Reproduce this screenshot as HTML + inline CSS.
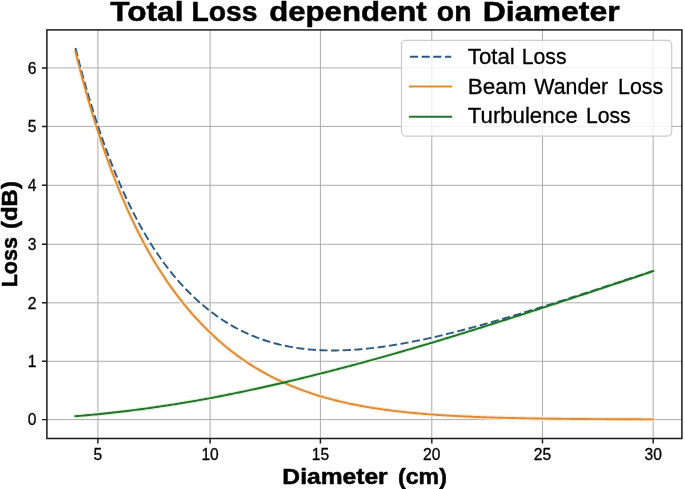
<!DOCTYPE html><html><head><meta charset="utf-8"><style>html,body{margin:0;padding:0;background:#fff;overflow:hidden}svg{display:block;filter:blur(0.45px)}text{font-family:"Liberation Sans",sans-serif;fill:#000}</style></head><body>
<svg width="685" height="489" viewBox="0 0 685 489">
<rect width="685" height="489" fill="#fff"/>
<path d="M97.90,29.90V438.50M210.10,29.90V438.50M320.40,29.90V438.50M431.80,29.90V438.50M542.50,29.90V438.50M653.20,29.90V438.50M46.90,419.60H681.90M46.90,361.30H681.90M46.90,302.80H681.90M46.90,244.30H681.90M46.90,185.30H681.90M46.90,126.40H681.90M46.90,67.90H681.90" stroke="#acacac" stroke-width="1.0" fill="none"/>
<clipPath id="ax"><rect x="46.9" y="29.9" width="635.00" height="408.60"/></clipPath>
<g clip-path="url(#ax)" fill="none" stroke-width="4.30" stroke-linejoin="round" stroke-linecap="round">
<path d="M75.46,51.49 L77.70,60.48 L79.95,69.23 L82.19,77.74 L84.44,86.01 L86.68,94.06 L88.92,101.90 L91.17,109.52 L93.41,116.94 L95.66,124.17 L97.90,131.24 L100.14,138.14 L102.39,144.86 L104.63,151.41 L106.88,157.79 L109.12,164.01 L111.36,170.07 L113.61,175.99 L115.85,181.75 L118.10,187.37 L120.34,192.86 L122.58,198.22 L124.83,203.44 L127.07,208.54 L129.32,213.52 L131.56,218.37 L133.80,223.11 L136.05,227.74 L138.29,232.26 L140.54,236.67 L142.78,240.97 L145.02,245.17 L147.27,249.25 L149.51,253.22 L151.76,257.11 L154.00,260.91 L156.24,264.62 L158.49,268.25 L160.73,271.79 L162.98,275.25 L165.22,278.64 L167.46,281.94 L169.71,285.18 L171.95,288.34 L174.20,291.43 L176.44,294.45 L178.68,297.40 L180.93,300.29 L183.17,303.11 L185.42,305.87 L187.66,308.57 L189.90,311.21 L192.15,313.80 L194.39,316.32 L196.64,318.79 L198.88,321.21 L201.12,323.57 L203.37,325.88 L205.61,328.14 L207.86,330.35 L210.10,332.51 L212.31,334.62 L214.51,336.69 L216.72,338.71 L218.92,340.68 L221.13,342.62 L223.34,344.51 L225.54,346.36 L227.75,348.17 L229.95,349.93 L232.16,351.66 L234.37,353.35 L236.57,355.01 L238.78,356.63 L240.98,358.21 L243.19,359.75 L245.40,361.26 L247.60,362.74 L249.81,364.17 L252.01,365.58 L254.22,366.96 L256.43,368.30 L258.63,369.62 L260.84,370.90 L263.04,372.15 L265.25,373.38 L267.46,374.58 L269.66,375.75 L271.87,376.89 L274.07,378.01 L276.28,379.10 L278.49,380.17 L280.69,381.21 L282.90,382.23 L285.10,383.22 L287.31,384.19 L289.52,385.14 L291.72,386.06 L293.93,386.97 L296.13,387.85 L298.34,388.71 L300.55,389.55 L302.75,390.37 L304.96,391.17 L307.16,391.95 L309.37,392.71 L311.58,393.45 L313.78,394.18 L315.99,394.88 L318.19,395.57 L320.40,396.24 L322.63,396.90 L324.86,397.54 L327.08,398.16 L329.31,398.77 L331.54,399.36 L333.77,399.93 L336.00,400.49 L338.22,401.04 L340.45,401.58 L342.68,402.09 L344.91,402.60 L347.14,403.09 L349.36,403.57 L351.59,404.04 L353.82,404.50 L356.05,404.94 L358.28,405.37 L360.50,405.79 L362.73,406.20 L364.96,406.59 L367.19,406.98 L369.42,407.36 L371.64,407.72 L373.87,408.08 L376.10,408.42 L378.33,408.76 L380.56,409.09 L382.78,409.41 L385.01,409.71 L387.24,410.01 L389.47,410.31 L391.70,410.59 L393.92,410.87 L396.15,411.13 L398.38,411.39 L400.61,411.65 L402.84,411.89 L405.06,412.13 L407.29,412.36 L409.52,412.59 L411.75,412.81 L413.98,413.02 L416.20,413.22 L418.43,413.42 L420.66,413.62 L422.89,413.80 L425.12,413.99 L427.34,414.16 L429.57,414.33 L431.80,414.50 L434.01,414.66 L436.23,414.82 L438.44,414.97 L440.66,415.12 L442.87,415.26 L445.08,415.40 L447.30,415.53 L449.51,415.66 L451.73,415.79 L453.94,415.91 L456.15,416.03 L458.37,416.14 L460.58,416.25 L462.80,416.36 L465.01,416.46 L467.22,416.56 L469.44,416.66 L471.65,416.76 L473.87,416.85 L476.08,416.94 L478.29,417.02 L480.51,417.11 L482.72,417.19 L484.94,417.26 L487.15,417.34 L489.36,417.41 L491.58,417.48 L493.79,417.55 L496.01,417.62 L498.22,417.68 L500.43,417.74 L502.65,417.80 L504.86,417.86 L507.08,417.92 L509.29,417.97 L511.50,418.02 L513.72,418.07 L515.93,418.12 L518.15,418.17 L520.36,418.21 L522.57,418.26 L524.79,418.30 L527.00,418.34 L529.22,418.38 L531.43,418.42 L533.64,418.46 L535.86,418.49 L538.07,418.53 L540.29,418.56 L542.50,418.60 L544.71,418.63 L546.93,418.66 L549.14,418.69 L551.36,418.71 L553.57,418.74 L555.78,418.77 L558.00,418.79 L560.21,418.82 L562.43,418.84 L564.64,418.87 L566.85,418.89 L569.07,418.91 L571.28,418.93 L573.50,418.95 L575.71,418.97 L577.92,418.99 L580.14,419.01 L582.35,419.03 L584.57,419.04 L586.78,419.06 L588.99,419.07 L591.21,419.09 L593.42,419.10 L595.64,419.12 L597.85,419.13 L600.06,419.15 L602.28,419.16 L604.49,419.17 L606.71,419.18 L608.92,419.20 L611.13,419.21 L613.35,419.22 L615.56,419.23 L617.78,419.24 L619.99,419.25 L622.20,419.26 L624.42,419.27 L626.63,419.28 L628.85,419.28 L631.06,419.29 L633.27,419.30 L635.49,419.31 L637.70,419.32 L639.92,419.32 L642.13,419.33 L644.34,419.34 L646.56,419.34 L648.77,419.35 L650.99,419.35 L653.20,419.36" stroke="#fcebd2"/>
<path d="M75.46,416.21 L77.70,416.03 L79.95,415.85 L82.19,415.66 L84.44,415.46 L86.68,415.27 L88.92,415.06 L91.17,414.86 L93.41,414.65 L95.66,414.43 L97.90,414.21 L100.14,413.99 L102.39,413.76 L104.63,413.53 L106.88,413.29 L109.12,413.05 L111.36,412.81 L113.61,412.56 L115.85,412.31 L118.10,412.05 L120.34,411.79 L122.58,411.52 L124.83,411.25 L127.07,410.98 L129.32,410.70 L131.56,410.42 L133.80,410.13 L136.05,409.84 L138.29,409.55 L140.54,409.25 L142.78,408.95 L145.02,408.65 L147.27,408.34 L149.51,408.02 L151.76,407.71 L154.00,407.38 L156.24,407.06 L158.49,406.73 L160.73,406.40 L162.98,406.06 L165.22,405.72 L167.46,405.38 L169.71,405.03 L171.95,404.68 L174.20,404.32 L176.44,403.96 L178.68,403.60 L180.93,403.23 L183.17,402.86 L185.42,402.49 L187.66,402.11 L189.90,401.73 L192.15,401.35 L194.39,400.96 L196.64,400.57 L198.88,400.17 L201.12,399.78 L203.37,399.37 L205.61,398.97 L207.86,398.56 L210.10,398.15 L212.31,397.73 L214.51,397.31 L216.72,396.89 L218.92,396.46 L221.13,396.04 L223.34,395.60 L225.54,395.17 L227.75,394.73 L229.95,394.29 L232.16,393.84 L234.37,393.39 L236.57,392.94 L238.78,392.49 L240.98,392.03 L243.19,391.57 L245.40,391.10 L247.60,390.64 L249.81,390.17 L252.01,389.69 L254.22,389.22 L256.43,388.74 L258.63,388.25 L260.84,387.77 L263.04,387.28 L265.25,386.79 L267.46,386.29 L269.66,385.79 L271.87,385.29 L274.07,384.79 L276.28,384.28 L278.49,383.78 L280.69,383.26 L282.90,382.75 L285.10,382.23 L287.31,381.71 L289.52,381.19 L291.72,380.66 L293.93,380.13 L296.13,379.60 L298.34,379.07 L300.55,378.53 L302.75,377.99 L304.96,377.45 L307.16,376.91 L309.37,376.36 L311.58,375.81 L313.78,375.26 L315.99,374.70 L318.19,374.15 L320.40,373.59 L322.63,373.02 L324.86,372.46 L327.08,371.89 L329.31,371.32 L331.54,370.75 L333.77,370.17 L336.00,369.60 L338.22,369.02 L340.45,368.44 L342.68,367.85 L344.91,367.27 L347.14,366.68 L349.36,366.09 L351.59,365.49 L353.82,364.90 L356.05,364.30 L358.28,363.70 L360.50,363.10 L362.73,362.49 L364.96,361.89 L367.19,361.28 L369.42,360.67 L371.64,360.05 L373.87,359.43 L376.10,358.82 L378.33,358.19 L380.56,357.57 L382.78,356.95 L385.01,356.32 L387.24,355.69 L389.47,355.06 L391.70,354.43 L393.92,353.79 L396.15,353.16 L398.38,352.52 L400.61,351.88 L402.84,351.23 L405.06,350.59 L407.29,349.94 L409.52,349.30 L411.75,348.65 L413.98,347.99 L416.20,347.34 L418.43,346.69 L420.66,346.03 L422.89,345.37 L425.12,344.71 L427.34,344.05 L429.57,343.39 L431.80,342.72 L434.01,342.06 L436.23,341.39 L438.44,340.72 L440.66,340.05 L442.87,339.38 L445.08,338.70 L447.30,338.03 L449.51,337.35 L451.73,336.67 L453.94,335.99 L456.15,335.31 L458.37,334.63 L460.58,333.94 L462.80,333.26 L465.01,332.57 L467.22,331.88 L469.44,331.19 L471.65,330.50 L473.87,329.81 L476.08,329.12 L478.29,328.42 L480.51,327.73 L482.72,327.03 L484.94,326.33 L487.15,325.63 L489.36,324.93 L491.58,324.23 L493.79,323.53 L496.01,322.82 L498.22,322.12 L500.43,321.41 L502.65,320.71 L504.86,320.00 L507.08,319.29 L509.29,318.58 L511.50,317.87 L513.72,317.16 L515.93,316.45 L518.15,315.73 L520.36,315.02 L522.57,314.30 L524.79,313.59 L527.00,312.87 L529.22,312.15 L531.43,311.43 L533.64,310.71 L535.86,309.99 L538.07,309.27 L540.29,308.55 L542.50,307.83 L544.71,307.11 L546.93,306.38 L549.14,305.66 L551.36,304.93 L553.57,304.21 L555.78,303.48 L558.00,302.75 L560.21,302.03 L562.43,301.30 L564.64,300.57 L566.85,299.84 L569.07,299.11 L571.28,298.38 L573.50,297.65 L575.71,296.92 L577.92,296.19 L580.14,295.46 L582.35,294.73 L584.57,293.99 L586.78,293.26 L588.99,292.53 L591.21,291.79 L593.42,291.06 L595.64,290.33 L597.85,289.59 L600.06,288.86 L602.28,288.12 L604.49,287.39 L606.71,286.65 L608.92,285.92 L611.13,285.18 L613.35,284.45 L615.56,283.71 L617.78,282.98 L619.99,282.24 L622.20,281.51 L624.42,280.77 L626.63,280.03 L628.85,279.30 L631.06,278.56 L633.27,277.83 L635.49,277.09 L637.70,276.35 L639.92,275.62 L642.13,274.88 L644.34,274.15 L646.56,273.41 L648.77,272.68 L650.99,271.94 L653.20,271.21" stroke="#dcf5dc"/>
</g>
<g clip-path="url(#ax)" fill="none" stroke-width="1.90">
<path d="M75.46,48.09 L77.70,56.90 L79.95,65.46 L82.19,73.78 L84.44,81.86 L86.68,89.72 L88.92,97.35 L91.17,104.76 L93.41,111.97 L95.66,118.99 L97.90,125.80 L100.14,132.47 L102.39,138.96 L104.63,145.28 L106.88,151.42 L109.12,157.40 L111.36,163.21 L113.61,168.87 L115.85,174.38 L118.10,179.74 L120.34,184.96 L122.58,190.04 L124.83,195.00 L127.07,199.82 L129.32,204.51 L131.56,209.08 L133.80,213.53 L136.05,217.87 L138.29,222.09 L140.54,226.20 L142.78,230.20 L145.02,234.09 L147.27,237.89 L149.51,241.58 L151.76,245.18 L154.00,248.65 L156.24,252.04 L158.49,255.33 L160.73,258.54 L162.98,261.67 L165.22,264.71 L167.46,267.67 L169.71,270.56 L171.95,273.36 L174.20,276.10 L176.44,278.76 L178.68,281.35 L180.93,283.87 L183.17,286.32 L185.42,288.71 L187.66,291.03 L189.90,293.29 L192.15,295.48 L194.39,297.62 L196.64,299.69 L198.88,301.71 L201.12,303.67 L203.37,305.58 L205.61,307.43 L207.86,309.23 L210.10,310.98 L212.31,312.68 L214.51,314.32 L216.72,315.92 L218.92,317.47 L221.13,318.97 L223.34,320.43 L225.54,321.84 L227.75,323.21 L229.95,324.54 L232.16,325.82 L234.37,327.06 L236.57,328.26 L238.78,329.42 L240.98,330.54 L243.19,331.62 L245.40,332.67 L247.60,333.68 L249.81,334.65 L252.01,335.59 L254.22,336.49 L256.43,337.36 L258.63,338.19 L260.84,338.99 L263.04,339.76 L265.25,340.50 L267.46,341.20 L269.66,341.88 L271.87,342.52 L274.07,343.14 L276.28,343.73 L278.49,344.29 L280.69,344.82 L282.90,345.32 L285.10,345.80 L287.31,346.25 L289.52,346.68 L291.72,347.08 L293.93,347.45 L296.13,347.80 L298.34,348.13 L300.55,348.44 L302.75,348.72 L304.96,348.98 L307.16,349.21 L309.37,349.43 L311.58,349.62 L313.78,349.79 L315.99,349.95 L318.19,350.08 L320.40,350.19 L322.63,350.28 L324.86,350.36 L327.08,350.41 L329.31,350.45 L331.54,350.47 L333.77,350.47 L336.00,350.45 L338.22,350.42 L340.45,350.37 L342.68,350.31 L344.91,350.23 L347.14,350.13 L349.36,350.02 L351.59,349.89 L353.82,349.75 L356.05,349.60 L358.28,349.43 L360.50,349.25 L362.73,349.05 L364.96,348.84 L367.19,348.62 L369.42,348.38 L371.64,348.13 L373.87,347.87 L376.10,347.60 L378.33,347.32 L380.56,347.02 L382.78,346.72 L385.01,346.40 L387.24,346.07 L389.47,345.73 L391.70,345.39 L393.92,345.03 L396.15,344.66 L398.38,344.28 L400.61,343.90 L402.84,343.50 L405.06,343.09 L407.29,342.68 L409.52,342.26 L411.75,341.83 L413.98,341.39 L416.20,340.94 L418.43,340.49 L420.66,340.03 L422.89,339.56 L425.12,339.08 L427.34,338.60 L429.57,338.10 L431.80,337.61 L434.01,337.10 L436.23,336.59 L438.44,336.07 L440.66,335.55 L442.87,335.02 L445.08,334.49 L447.30,333.94 L449.51,333.40 L451.73,332.85 L453.94,332.29 L456.15,331.72 L458.37,331.16 L460.58,330.58 L462.80,330.01 L465.01,329.42 L467.22,328.84 L469.44,328.25 L471.65,327.65 L473.87,327.05 L476.08,326.44 L478.29,325.84 L480.51,325.22 L482.72,324.61 L484.94,323.99 L487.15,323.36 L489.36,322.74 L491.58,322.11 L493.79,321.47 L496.01,320.83 L498.22,320.19 L500.43,319.55 L502.65,318.90 L504.86,318.25 L507.08,317.60 L509.29,316.94 L511.50,316.29 L513.72,315.63 L515.93,314.96 L518.15,314.30 L520.36,313.63 L522.57,312.96 L524.79,312.28 L527.00,311.61 L529.22,310.93 L531.43,310.25 L533.64,309.57 L535.86,308.88 L538.07,308.20 L540.29,307.51 L542.50,306.82 L544.71,306.13 L546.93,305.44 L549.14,304.74 L551.36,304.04 L553.57,303.35 L555.78,302.65 L558.00,301.95 L560.21,301.24 L562.43,300.54 L564.64,299.83 L566.85,299.13 L569.07,298.42 L571.28,297.71 L573.50,297.00 L575.71,296.29 L577.92,295.58 L580.14,294.86 L582.35,294.15 L584.57,293.43 L586.78,292.72 L588.99,292.00 L591.21,291.28 L593.42,290.56 L595.64,289.84 L597.85,289.12 L600.06,288.40 L602.28,287.68 L604.49,286.96 L606.71,286.24 L608.92,285.51 L611.13,284.79 L613.35,284.06 L615.56,283.34 L617.78,282.61 L619.99,281.89 L622.20,281.16 L624.42,280.43 L626.63,279.71 L628.85,278.98 L631.06,278.25 L633.27,277.53 L635.49,276.80 L637.70,276.07 L639.92,275.34 L642.13,274.61 L644.34,273.88 L646.56,273.15 L648.77,272.43 L650.99,271.70 L653.20,270.97" stroke="#2a5a80" stroke-dasharray="8.12 3.51" stroke-linejoin="round"/>
<path d="M75.46,51.49 L77.70,60.48 L79.95,69.23 L82.19,77.74 L84.44,86.01 L86.68,94.06 L88.92,101.90 L91.17,109.52 L93.41,116.94 L95.66,124.17 L97.90,131.24 L100.14,138.14 L102.39,144.86 L104.63,151.41 L106.88,157.79 L109.12,164.01 L111.36,170.07 L113.61,175.99 L115.85,181.75 L118.10,187.37 L120.34,192.86 L122.58,198.22 L124.83,203.44 L127.07,208.54 L129.32,213.52 L131.56,218.37 L133.80,223.11 L136.05,227.74 L138.29,232.26 L140.54,236.67 L142.78,240.97 L145.02,245.17 L147.27,249.25 L149.51,253.22 L151.76,257.11 L154.00,260.91 L156.24,264.62 L158.49,268.25 L160.73,271.79 L162.98,275.25 L165.22,278.64 L167.46,281.94 L169.71,285.18 L171.95,288.34 L174.20,291.43 L176.44,294.45 L178.68,297.40 L180.93,300.29 L183.17,303.11 L185.42,305.87 L187.66,308.57 L189.90,311.21 L192.15,313.80 L194.39,316.32 L196.64,318.79 L198.88,321.21 L201.12,323.57 L203.37,325.88 L205.61,328.14 L207.86,330.35 L210.10,332.51 L212.31,334.62 L214.51,336.69 L216.72,338.71 L218.92,340.68 L221.13,342.62 L223.34,344.51 L225.54,346.36 L227.75,348.17 L229.95,349.93 L232.16,351.66 L234.37,353.35 L236.57,355.01 L238.78,356.63 L240.98,358.21 L243.19,359.75 L245.40,361.26 L247.60,362.74 L249.81,364.17 L252.01,365.58 L254.22,366.96 L256.43,368.30 L258.63,369.62 L260.84,370.90 L263.04,372.15 L265.25,373.38 L267.46,374.58 L269.66,375.75 L271.87,376.89 L274.07,378.01 L276.28,379.10 L278.49,380.17 L280.69,381.21 L282.90,382.23 L285.10,383.22 L287.31,384.19 L289.52,385.14 L291.72,386.06 L293.93,386.97 L296.13,387.85 L298.34,388.71 L300.55,389.55 L302.75,390.37 L304.96,391.17 L307.16,391.95 L309.37,392.71 L311.58,393.45 L313.78,394.18 L315.99,394.88 L318.19,395.57 L320.40,396.24 L322.63,396.90 L324.86,397.54 L327.08,398.16 L329.31,398.77 L331.54,399.36 L333.77,399.93 L336.00,400.49 L338.22,401.04 L340.45,401.58 L342.68,402.09 L344.91,402.60 L347.14,403.09 L349.36,403.57 L351.59,404.04 L353.82,404.50 L356.05,404.94 L358.28,405.37 L360.50,405.79 L362.73,406.20 L364.96,406.59 L367.19,406.98 L369.42,407.36 L371.64,407.72 L373.87,408.08 L376.10,408.42 L378.33,408.76 L380.56,409.09 L382.78,409.41 L385.01,409.71 L387.24,410.01 L389.47,410.31 L391.70,410.59 L393.92,410.87 L396.15,411.13 L398.38,411.39 L400.61,411.65 L402.84,411.89 L405.06,412.13 L407.29,412.36 L409.52,412.59 L411.75,412.81 L413.98,413.02 L416.20,413.22 L418.43,413.42 L420.66,413.62 L422.89,413.80 L425.12,413.99 L427.34,414.16 L429.57,414.33 L431.80,414.50 L434.01,414.66 L436.23,414.82 L438.44,414.97 L440.66,415.12 L442.87,415.26 L445.08,415.40 L447.30,415.53 L449.51,415.66 L451.73,415.79 L453.94,415.91 L456.15,416.03 L458.37,416.14 L460.58,416.25 L462.80,416.36 L465.01,416.46 L467.22,416.56 L469.44,416.66 L471.65,416.76 L473.87,416.85 L476.08,416.94 L478.29,417.02 L480.51,417.11 L482.72,417.19 L484.94,417.26 L487.15,417.34 L489.36,417.41 L491.58,417.48 L493.79,417.55 L496.01,417.62 L498.22,417.68 L500.43,417.74 L502.65,417.80 L504.86,417.86 L507.08,417.92 L509.29,417.97 L511.50,418.02 L513.72,418.07 L515.93,418.12 L518.15,418.17 L520.36,418.21 L522.57,418.26 L524.79,418.30 L527.00,418.34 L529.22,418.38 L531.43,418.42 L533.64,418.46 L535.86,418.49 L538.07,418.53 L540.29,418.56 L542.50,418.60 L544.71,418.63 L546.93,418.66 L549.14,418.69 L551.36,418.71 L553.57,418.74 L555.78,418.77 L558.00,418.79 L560.21,418.82 L562.43,418.84 L564.64,418.87 L566.85,418.89 L569.07,418.91 L571.28,418.93 L573.50,418.95 L575.71,418.97 L577.92,418.99 L580.14,419.01 L582.35,419.03 L584.57,419.04 L586.78,419.06 L588.99,419.07 L591.21,419.09 L593.42,419.10 L595.64,419.12 L597.85,419.13 L600.06,419.15 L602.28,419.16 L604.49,419.17 L606.71,419.18 L608.92,419.20 L611.13,419.21 L613.35,419.22 L615.56,419.23 L617.78,419.24 L619.99,419.25 L622.20,419.26 L624.42,419.27 L626.63,419.28 L628.85,419.28 L631.06,419.29 L633.27,419.30 L635.49,419.31 L637.70,419.32 L639.92,419.32 L642.13,419.33 L644.34,419.34 L646.56,419.34 L648.77,419.35 L650.99,419.35 L653.20,419.36" stroke="#dc8a38" stroke-linecap="square" stroke-linejoin="round"/>
<path d="M75.46,416.21 L77.70,416.03 L79.95,415.85 L82.19,415.66 L84.44,415.46 L86.68,415.27 L88.92,415.06 L91.17,414.86 L93.41,414.65 L95.66,414.43 L97.90,414.21 L100.14,413.99 L102.39,413.76 L104.63,413.53 L106.88,413.29 L109.12,413.05 L111.36,412.81 L113.61,412.56 L115.85,412.31 L118.10,412.05 L120.34,411.79 L122.58,411.52 L124.83,411.25 L127.07,410.98 L129.32,410.70 L131.56,410.42 L133.80,410.13 L136.05,409.84 L138.29,409.55 L140.54,409.25 L142.78,408.95 L145.02,408.65 L147.27,408.34 L149.51,408.02 L151.76,407.71 L154.00,407.38 L156.24,407.06 L158.49,406.73 L160.73,406.40 L162.98,406.06 L165.22,405.72 L167.46,405.38 L169.71,405.03 L171.95,404.68 L174.20,404.32 L176.44,403.96 L178.68,403.60 L180.93,403.23 L183.17,402.86 L185.42,402.49 L187.66,402.11 L189.90,401.73 L192.15,401.35 L194.39,400.96 L196.64,400.57 L198.88,400.17 L201.12,399.78 L203.37,399.37 L205.61,398.97 L207.86,398.56 L210.10,398.15 L212.31,397.73 L214.51,397.31 L216.72,396.89 L218.92,396.46 L221.13,396.04 L223.34,395.60 L225.54,395.17 L227.75,394.73 L229.95,394.29 L232.16,393.84 L234.37,393.39 L236.57,392.94 L238.78,392.49 L240.98,392.03 L243.19,391.57 L245.40,391.10 L247.60,390.64 L249.81,390.17 L252.01,389.69 L254.22,389.22 L256.43,388.74 L258.63,388.25 L260.84,387.77 L263.04,387.28 L265.25,386.79 L267.46,386.29 L269.66,385.79 L271.87,385.29 L274.07,384.79 L276.28,384.28 L278.49,383.78 L280.69,383.26 L282.90,382.75 L285.10,382.23 L287.31,381.71 L289.52,381.19 L291.72,380.66 L293.93,380.13 L296.13,379.60 L298.34,379.07 L300.55,378.53 L302.75,377.99 L304.96,377.45 L307.16,376.91 L309.37,376.36 L311.58,375.81 L313.78,375.26 L315.99,374.70 L318.19,374.15 L320.40,373.59 L322.63,373.02 L324.86,372.46 L327.08,371.89 L329.31,371.32 L331.54,370.75 L333.77,370.17 L336.00,369.60 L338.22,369.02 L340.45,368.44 L342.68,367.85 L344.91,367.27 L347.14,366.68 L349.36,366.09 L351.59,365.49 L353.82,364.90 L356.05,364.30 L358.28,363.70 L360.50,363.10 L362.73,362.49 L364.96,361.89 L367.19,361.28 L369.42,360.67 L371.64,360.05 L373.87,359.43 L376.10,358.82 L378.33,358.19 L380.56,357.57 L382.78,356.95 L385.01,356.32 L387.24,355.69 L389.47,355.06 L391.70,354.43 L393.92,353.79 L396.15,353.16 L398.38,352.52 L400.61,351.88 L402.84,351.23 L405.06,350.59 L407.29,349.94 L409.52,349.30 L411.75,348.65 L413.98,347.99 L416.20,347.34 L418.43,346.69 L420.66,346.03 L422.89,345.37 L425.12,344.71 L427.34,344.05 L429.57,343.39 L431.80,342.72 L434.01,342.06 L436.23,341.39 L438.44,340.72 L440.66,340.05 L442.87,339.38 L445.08,338.70 L447.30,338.03 L449.51,337.35 L451.73,336.67 L453.94,335.99 L456.15,335.31 L458.37,334.63 L460.58,333.94 L462.80,333.26 L465.01,332.57 L467.22,331.88 L469.44,331.19 L471.65,330.50 L473.87,329.81 L476.08,329.12 L478.29,328.42 L480.51,327.73 L482.72,327.03 L484.94,326.33 L487.15,325.63 L489.36,324.93 L491.58,324.23 L493.79,323.53 L496.01,322.82 L498.22,322.12 L500.43,321.41 L502.65,320.71 L504.86,320.00 L507.08,319.29 L509.29,318.58 L511.50,317.87 L513.72,317.16 L515.93,316.45 L518.15,315.73 L520.36,315.02 L522.57,314.30 L524.79,313.59 L527.00,312.87 L529.22,312.15 L531.43,311.43 L533.64,310.71 L535.86,309.99 L538.07,309.27 L540.29,308.55 L542.50,307.83 L544.71,307.11 L546.93,306.38 L549.14,305.66 L551.36,304.93 L553.57,304.21 L555.78,303.48 L558.00,302.75 L560.21,302.03 L562.43,301.30 L564.64,300.57 L566.85,299.84 L569.07,299.11 L571.28,298.38 L573.50,297.65 L575.71,296.92 L577.92,296.19 L580.14,295.46 L582.35,294.73 L584.57,293.99 L586.78,293.26 L588.99,292.53 L591.21,291.79 L593.42,291.06 L595.64,290.33 L597.85,289.59 L600.06,288.86 L602.28,288.12 L604.49,287.39 L606.71,286.65 L608.92,285.92 L611.13,285.18 L613.35,284.45 L615.56,283.71 L617.78,282.98 L619.99,282.24 L622.20,281.51 L624.42,280.77 L626.63,280.03 L628.85,279.30 L631.06,278.56 L633.27,277.83 L635.49,277.09 L637.70,276.35 L639.92,275.62 L642.13,274.88 L644.34,274.15 L646.56,273.41 L648.77,272.68 L650.99,271.94 L653.20,271.21" stroke="#24702b" stroke-linecap="square" stroke-linejoin="round"/>
</g>
<rect x="46.9" y="29.9" width="635.00" height="408.60" fill="none" stroke="#1a1a1a" stroke-width="1.5" stroke-linejoin="miter"/>
<path d="M97.90,438.50v5M210.10,438.50v5M320.40,438.50v5M431.80,438.50v5M542.50,438.50v5M653.20,438.50v5M46.90,419.60h-5M46.90,361.30h-5M46.90,302.80h-5M46.90,244.30h-5M46.90,185.30h-5M46.90,126.40h-5M46.90,67.90h-5" stroke="#1a1a1a" stroke-width="1.45" fill="none"/>
<text x="97.90" y="459.5" font-size="15.6" text-anchor="middle" stroke="#000" stroke-width="0.3" stroke-linejoin="round">5</text>
<text x="210.10" y="459.5" font-size="15.6" text-anchor="middle" stroke="#000" stroke-width="0.3" stroke-linejoin="round">10</text>
<text x="320.40" y="459.5" font-size="15.6" text-anchor="middle" stroke="#000" stroke-width="0.3" stroke-linejoin="round">15</text>
<text x="431.80" y="459.5" font-size="15.6" text-anchor="middle" stroke="#000" stroke-width="0.3" stroke-linejoin="round">20</text>
<text x="542.50" y="459.5" font-size="15.6" text-anchor="middle" stroke="#000" stroke-width="0.3" stroke-linejoin="round">25</text>
<text x="653.20" y="459.5" font-size="15.6" text-anchor="middle" stroke="#000" stroke-width="0.3" stroke-linejoin="round">30</text>
<text x="36.45" y="425.45" font-size="15.6" text-anchor="end" stroke="#000" stroke-width="0.3" stroke-linejoin="round">0</text>
<text x="36.45" y="367.15" font-size="15.6" text-anchor="end" stroke="#000" stroke-width="0.3" stroke-linejoin="round">1</text>
<text x="36.45" y="308.65" font-size="15.6" text-anchor="end" stroke="#000" stroke-width="0.3" stroke-linejoin="round">2</text>
<text x="36.45" y="250.15" font-size="15.6" text-anchor="end" stroke="#000" stroke-width="0.3" stroke-linejoin="round">3</text>
<text x="36.45" y="191.15" font-size="15.6" text-anchor="end" stroke="#000" stroke-width="0.3" stroke-linejoin="round">4</text>
<text x="36.45" y="132.25" font-size="15.6" text-anchor="end" stroke="#000" stroke-width="0.3" stroke-linejoin="round">5</text>
<text x="36.45" y="73.75" font-size="15.6" text-anchor="end" stroke="#000" stroke-width="0.3" stroke-linejoin="round">6</text>
<rect x="401.5" y="40.4" width="270.2" height="95.7" rx="4" ry="4" fill="#fff" fill-opacity="0.8" stroke="#cccccc" stroke-width="1.2"/>
<path d="M410,56.7H451.2" stroke="#2a5a80" stroke-width="1.9" stroke-dasharray="8.12 3.51"/>
<path d="M410,86.5H451.2" stroke="#dc8a38" stroke-width="1.9" stroke-linecap="square"/>
<path d="M410,116.8H451.2" stroke="#24702b" stroke-width="1.9" stroke-linecap="square"/>
<text x="110.34" y="21.2" font-size="27.8" font-weight="bold" textLength="73.16" lengthAdjust="spacingAndGlyphs" stroke="#000" stroke-width="0.5" stroke-linejoin="round">Total</text>
<text x="191.41" y="21.2" font-size="27.8" font-weight="bold" textLength="66.03" lengthAdjust="spacingAndGlyphs" stroke="#000" stroke-width="0.5" stroke-linejoin="round">Loss</text>
<text x="269.19" y="21.2" font-size="27.8" font-weight="bold" textLength="157.55" lengthAdjust="spacingAndGlyphs" stroke="#000" stroke-width="0.5" stroke-linejoin="round">dependent</text>
<text x="436.85" y="21.2" font-size="27.8" font-weight="bold" textLength="34.63" lengthAdjust="spacingAndGlyphs" stroke="#000" stroke-width="0.5" stroke-linejoin="round">on</text>
<text x="482.75" y="21.2" font-size="27.8" font-weight="bold" textLength="137.00" lengthAdjust="spacingAndGlyphs" stroke="#000" stroke-width="0.5" stroke-linejoin="round">Diameter</text>
<text x="282.39" y="484.3" font-size="21.5" font-weight="bold" textLength="105.27" lengthAdjust="spacingAndGlyphs" stroke="#000" stroke-width="0.5" stroke-linejoin="round">Diameter</text>
<text x="398.09" y="484.3" font-size="21.5" font-weight="bold" textLength="48.78" lengthAdjust="spacingAndGlyphs" stroke="#000" stroke-width="0.5" stroke-linejoin="round">(cm)</text>
<text x="467.83" y="63.8" font-size="21.7" font-weight="normal" textLength="46.86" lengthAdjust="spacingAndGlyphs" stroke="#000" stroke-width="0.3" stroke-linejoin="round">Total</text>
<text x="521.73" y="63.8" font-size="21.7" font-weight="normal" textLength="44.84" lengthAdjust="spacingAndGlyphs" stroke="#000" stroke-width="0.3" stroke-linejoin="round">Loss</text>
<text x="467.72" y="94.0" font-size="21.7" font-weight="normal" textLength="58.76" lengthAdjust="spacingAndGlyphs" stroke="#000" stroke-width="0.3" stroke-linejoin="round">Beam</text>
<text x="534.34" y="94.0" font-size="21.7" font-weight="normal" textLength="73.89" lengthAdjust="spacingAndGlyphs" stroke="#000" stroke-width="0.3" stroke-linejoin="round">Wander</text>
<text x="618.01" y="94.0" font-size="21.7" font-weight="normal" textLength="45.26" lengthAdjust="spacingAndGlyphs" stroke="#000" stroke-width="0.3" stroke-linejoin="round">Loss</text>
<text x="467.83" y="123.3" font-size="21.7" font-weight="normal" textLength="110.12" lengthAdjust="spacingAndGlyphs" stroke="#000" stroke-width="0.3" stroke-linejoin="round">Turbulence</text>
<text x="585.93" y="123.3" font-size="21.7" font-weight="normal" textLength="44.73" lengthAdjust="spacingAndGlyphs" stroke="#000" stroke-width="0.3" stroke-linejoin="round">Loss</text>
<text transform="translate(16.7,287.25) rotate(-90)" x="0" y="0" font-size="21.5" font-weight="bold" textLength="50.06" lengthAdjust="spacingAndGlyphs" stroke="#000" stroke-width="0.5" stroke-linejoin="round">Loss</text>
<text transform="translate(16.7,229.06) rotate(-90)" x="0" y="0" font-size="21.5" font-weight="bold" textLength="47.95" lengthAdjust="spacingAndGlyphs" stroke="#000" stroke-width="0.5" stroke-linejoin="round">(dB)</text>
</svg></body></html>
